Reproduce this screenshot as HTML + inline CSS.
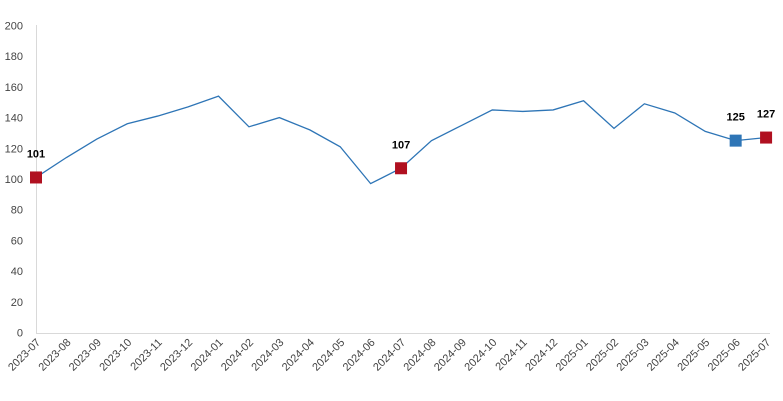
<!DOCTYPE html>
<html><head><meta charset="utf-8"><style>
html,body{margin:0;padding:0;background:#fff;width:783px;height:401px;overflow:hidden}
text{font-family:"Liberation Sans",sans-serif}
</style></head><body>
<svg width="783" height="401" xmlns="http://www.w3.org/2000/svg">
<g id="g"></g>
</svg>
<script>
const d=[101,114,126,136,141,147,154,134,140,132,121,97,107,125,135,145,144,145,151,133,149,143,131,125,127];
const x0=36,dx=30.42,y0=332.5,k=1.535;
const X=i=>x0+i*dx, Y=v=>y0-v*k;
let s='';
s+=`<line x1="36.5" y1="25" x2="36.5" y2="333" stroke="#d9d9d9"/>`;
s+=`<line x1="36" y1="333.5" x2="770" y2="333.5" stroke="#d9d9d9"/>`;
for(let v=0;v<=200;v+=20){s+=`<text x="23" y="${Y(v)+4}" font-size="11" fill="#444" text-anchor="end">${v}</text>`;}
for(let i=0;i<25;i++){const y=2023+Math.floor((6+i)/12),m=(6+i)%12+1;
const lab=y+'-'+String(m).padStart(2,'0');
s+=`<text transform="translate(${X(i)+5},343) rotate(-45)" font-size="11" fill="#444" text-anchor="end">${lab}</text>`;}
s+=`<polyline fill="none" stroke="#2e75b6" stroke-width="1.3" points="${d.map((v,i)=>X(i)+','+Y(v)).join(' ')}"/>`;
const mk=[[0,'#b01020'],[12,'#b01020'],[23,'#2e75b6'],[24,'#b01020']];
for(const [i,c] of mk){s+=`<rect x="${X(i)-6}" y="${Y(d[i])-6}" width="12" height="12" fill="${c}"/>`;
s+=`<text x="${X(i)}" y="${Y(d[i])-20}" font-size="11" font-weight="bold" fill="#000" text-anchor="middle">${d[i]}</text>`;}
document.getElementById('g').innerHTML=s;
</script>
</body></html>
